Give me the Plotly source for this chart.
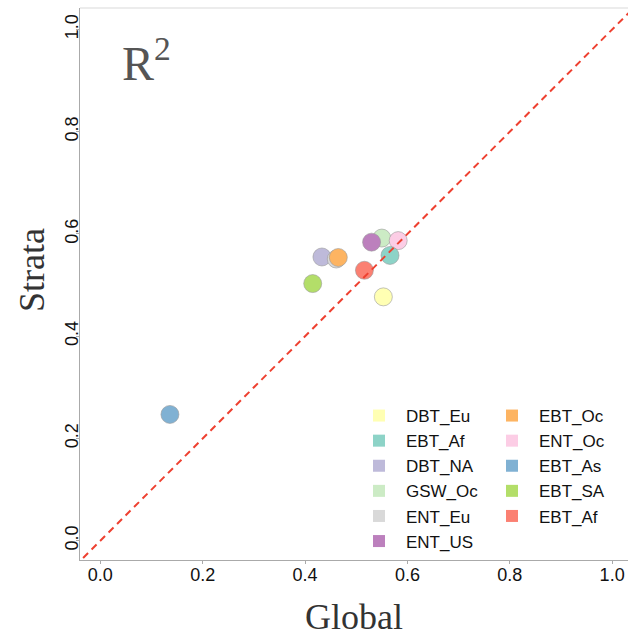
import plotly.graph_objects as go

# ---- data ----
legend_names = ["DBT_Eu", "EBT_Af", "DBT_NA", "GSW_Oc", "ENT_Eu", "ENT_US",
                "EBT_Oc", "ENT_Oc", "EBT_As", "EBT_SA", "EBT_Af"]
legend_colors = ["#FFFFB3", "#8DD3C7", "#BEBADA", "#CCEBC5", "#D9D9D9", "#BC80BD",
                 "#FDB462", "#FCCDE5", "#80B1D3", "#B3DE69", "#FB8072"]
global_r2 = [0.553, 0.566, 0.433, 0.550, 0.461, 0.530, 0.465, 0.582, 0.136, 0.415, 0.516]
strata_r2 = [0.477, 0.558, 0.555, 0.592, 0.551, 0.584, 0.554, 0.587, 0.247, 0.503, 0.529]
draw_order = [0, 2, 4, 6, 3, 5, 7, 1, 8, 9, 10]
tick_vals = [0.0, 0.2, 0.4, 0.6, 0.8, 1.0]
tick_text = ["0.0", "0.2", "0.4", "0.6", "0.8", "1.0"]
identity_line = [-0.1, 1.1]

fig = go.Figure()

for i in draw_order:
    fig.add_trace(go.Scatter(
        x=[global_r2[i]], y=[strata_r2[i]], mode="markers",
        marker=dict(size=18, color=legend_colors[i], line=dict(color="#9a9a9a", width=0.6)),
        showlegend=False, hoverinfo="x+y", name=legend_names[i]))

for i, (n, c) in enumerate(zip(legend_names, legend_colors)):
    fig.add_trace(go.Scatter(
        x=[None], y=[None], mode="markers", name=n,
        marker=dict(symbol="square", size=12, color=c, line=dict(width=0)),
        legend="legend" if i < 6 else "legend2"))

fig.add_trace(go.Scatter(
    x=identity_line, y=identity_line, mode="lines",
    line=dict(color="#EE4030", width=2, dash="7px,5px"),
    showlegend=False, hoverinfo="skip"))

axis_font = dict(family="Liberation Sans, Arial, sans-serif", size=18, color="#111")
title_font = dict(family="Liberation Serif, Times New Roman, serif", size=36, color="#333")
legend_font = dict(family="Liberation Sans, Arial, sans-serif", size=17, color="#111")

fig.update_layout(
    width=628, height=637,
    margin=dict(l=80, r=0, t=8, b=77),
    paper_bgcolor="white", plot_bgcolor="white",
    xaxis=dict(range=[-0.0397, 1.031], tickvals=tick_vals, ticktext=tick_text,
               showgrid=False, zeroline=False, showline=True, linecolor="#aaaaaa",
               linewidth=1, ticks="outside", ticklen=3, tickcolor="#aaaaaa",
               tickfont=axis_font, ticklabelstandoff=-5, automargin=False,
               title=dict(text="Global", font=title_font, standoff=22)),
    yaxis=dict(range=[-0.0377, 1.042], tickvals=tick_vals, ticktext=tick_text,
               showgrid=False, zeroline=False, showline=True, linecolor="#aaaaaa",
               linewidth=1, ticks="outside", ticklen=3, tickcolor="#aaaaaa",
               tickangle=-90, tickfont=axis_font, ticklabelstandoff=-9, automargin=False),
    legend=dict(x=(352 - 80) / 548, y=1 - (398 - 8) / 552, xanchor="left", yanchor="top",
                font=legend_font, itemsizing="constant", itemwidth=44,
                bgcolor="rgba(0,0,0,0)"),
    legend2=dict(x=(485 - 80) / 548, y=1 - (398 - 8) / 552, xanchor="left", yanchor="top",
                 font=legend_font, itemsizing="constant", itemwidth=44,
                 bgcolor="rgba(0,0,0,0)"),
    shapes=[dict(type="line", xref="paper", yref="paper", x0=0, x1=1, y0=1, y1=1,
                 line=dict(color="#d9d9d9", width=1))],
    annotations=[
        dict(text="R<sup>2</sup>", xref="paper", yref="paper",
             x=(120 - 80) / 548, y=1 - (60 - 8) / 552, xanchor="left", yanchor="middle",
             showarrow=False,
             font=dict(family="Liberation Serif, Times New Roman, serif", size=48, color="#555")),
        dict(text="Strata", xref="paper", yref="paper", textangle=-90,
             x=(32 - 80) / 548, y=1 - (270 - 8) / 552, xanchor="center", yanchor="middle",
             showarrow=False, font=title_font),
    ],
)

fig.write_html("out.html", post_script="document.body.style.margin='0';",
               config={"displayModeBar": False})
